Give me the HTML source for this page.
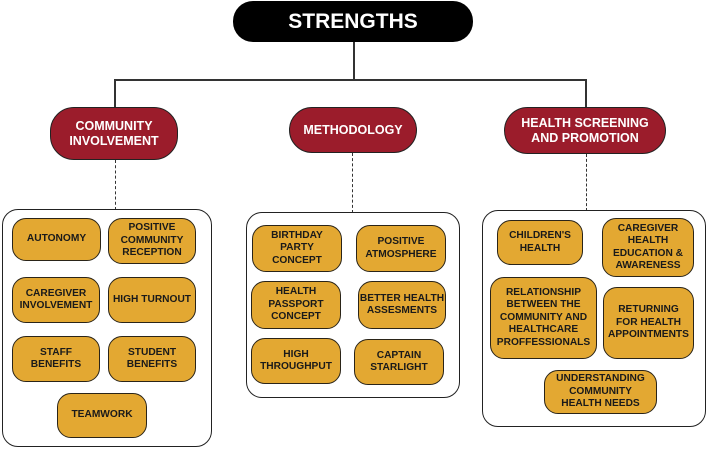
<!DOCTYPE html>
<html><head><meta charset="utf-8"><style>
body{margin:0;width:709px;height:452px;background:#fff;position:relative;overflow:hidden;font-family:"Liberation Sans",Arial,sans-serif;font-weight:bold}
.a{position:absolute;box-sizing:border-box;display:flex;align-items:center;justify-content:center;text-align:center}
.top{background:#000;color:#fff;border-radius:20px;font-size:21px}
.h{background:#9b1c2b;color:#fff;border:1.5px solid #222;border-radius:24px;font-size:12.5px;line-height:15px}
.box{border:1.5px solid #222;border-radius:16px;background:#fff}
.i{background:#e3a832;border:1.5px solid #2a2418;border-radius:14px;font-size:10.2px;line-height:12.5px;color:#1a1a1a}
.l{position:absolute;background:#333}
.d{position:absolute;border-left:1.5px dashed #333;width:0}
</style></head><body>
<div class="l" style="left:353px;top:40px;width:1.5px;height:40px"></div>
<div class="l" style="left:114px;top:79px;width:472px;height:1.5px"></div>
<div class="l" style="left:114px;top:79px;width:1.5px;height:30px"></div>
<div class="l" style="left:585px;top:79px;width:1.5px;height:30px"></div>
<div class="d" style="left:115px;top:160px;height:50px"></div>
<div class="d" style="left:352px;top:153px;height:60px"></div>
<div class="d" style="left:586px;top:154px;height:57px"></div>

<div class="a top" style="left:233px;top:1px;width:240px;height:41px">STRENGTHS</div>
<div class="a h" style="left:50px;top:107px;width:128px;height:53px">COMMUNITY<br>INVOLVEMENT</div>
<div class="a h" style="left:289px;top:107px;width:128px;height:46px">METHODOLOGY</div>
<div class="a h" style="left:504px;top:107px;width:162px;height:47px">HEALTH SCREENING<br>AND PROMOTION</div>

<div class="a box" style="left:2px;top:209px;width:210px;height:238px"></div>
<div class="a box" style="left:246px;top:212px;width:214px;height:186px"></div>
<div class="a box" style="left:482px;top:210px;width:224px;height:217px"></div>

<div class="a i" style="left:12px;top:218px;width:89px;height:43px">AUTONOMY</div>
<div class="a i" style="left:108px;top:218px;width:88px;height:46px">POSITIVE<br>COMMUNITY<br>RECEPTION</div>
<div class="a i" style="left:12px;top:277px;width:88px;height:46px">CAREGIVER<br>INVOLVEMENT</div>
<div class="a i" style="left:108px;top:277px;width:88px;height:46px">HIGH TURNOUT</div>
<div class="a i" style="left:12px;top:336px;width:88px;height:46px">STAFF<br>BENEFITS</div>
<div class="a i" style="left:108px;top:336px;width:88px;height:46px">STUDENT<br>BENEFITS</div>
<div class="a i" style="left:57px;top:393px;width:90px;height:45px">TEAMWORK</div>

<div class="a i" style="left:252px;top:225px;width:90px;height:47px">BIRTHDAY<br>PARTY<br>CONCEPT</div>
<div class="a i" style="left:356px;top:225px;width:90px;height:47px">POSITIVE<br>ATMOSPHERE</div>
<div class="a i" style="left:251px;top:281px;width:90px;height:48px">HEALTH<br>PASSPORT<br>CONCEPT</div>
<div class="a i" style="left:358px;top:281px;width:88px;height:48px">BETTER HEALTH<br>ASSESMENTS</div>
<div class="a i" style="left:251px;top:338px;width:90px;height:46px">HIGH<br>THROUGHPUT</div>
<div class="a i" style="left:354px;top:339px;width:90px;height:46px">CAPTAIN<br>STARLIGHT</div>

<div class="a i" style="left:497px;top:220px;width:86px;height:45px">CHILDREN'S<br>HEALTH</div>
<div class="a i" style="left:602px;top:218px;width:92px;height:59px">CAREGIVER<br>HEALTH<br>EDUCATION &amp;<br>AWARENESS</div>
<div class="a i" style="left:490px;top:277px;width:107px;height:82px">RELATIONSHIP<br>BETWEEN THE<br>COMMUNITY AND<br>HEALTHCARE<br>PROFFESSIONALS</div>
<div class="a i" style="left:603px;top:287px;width:91px;height:72px">RETURNING<br>FOR HEALTH<br>APPOINTMENTS</div>
<div class="a i" style="left:544px;top:370px;width:113px;height:44px">UNDERSTANDING<br>COMMUNITY<br>HEALTH NEEDS</div>
</body></html>
